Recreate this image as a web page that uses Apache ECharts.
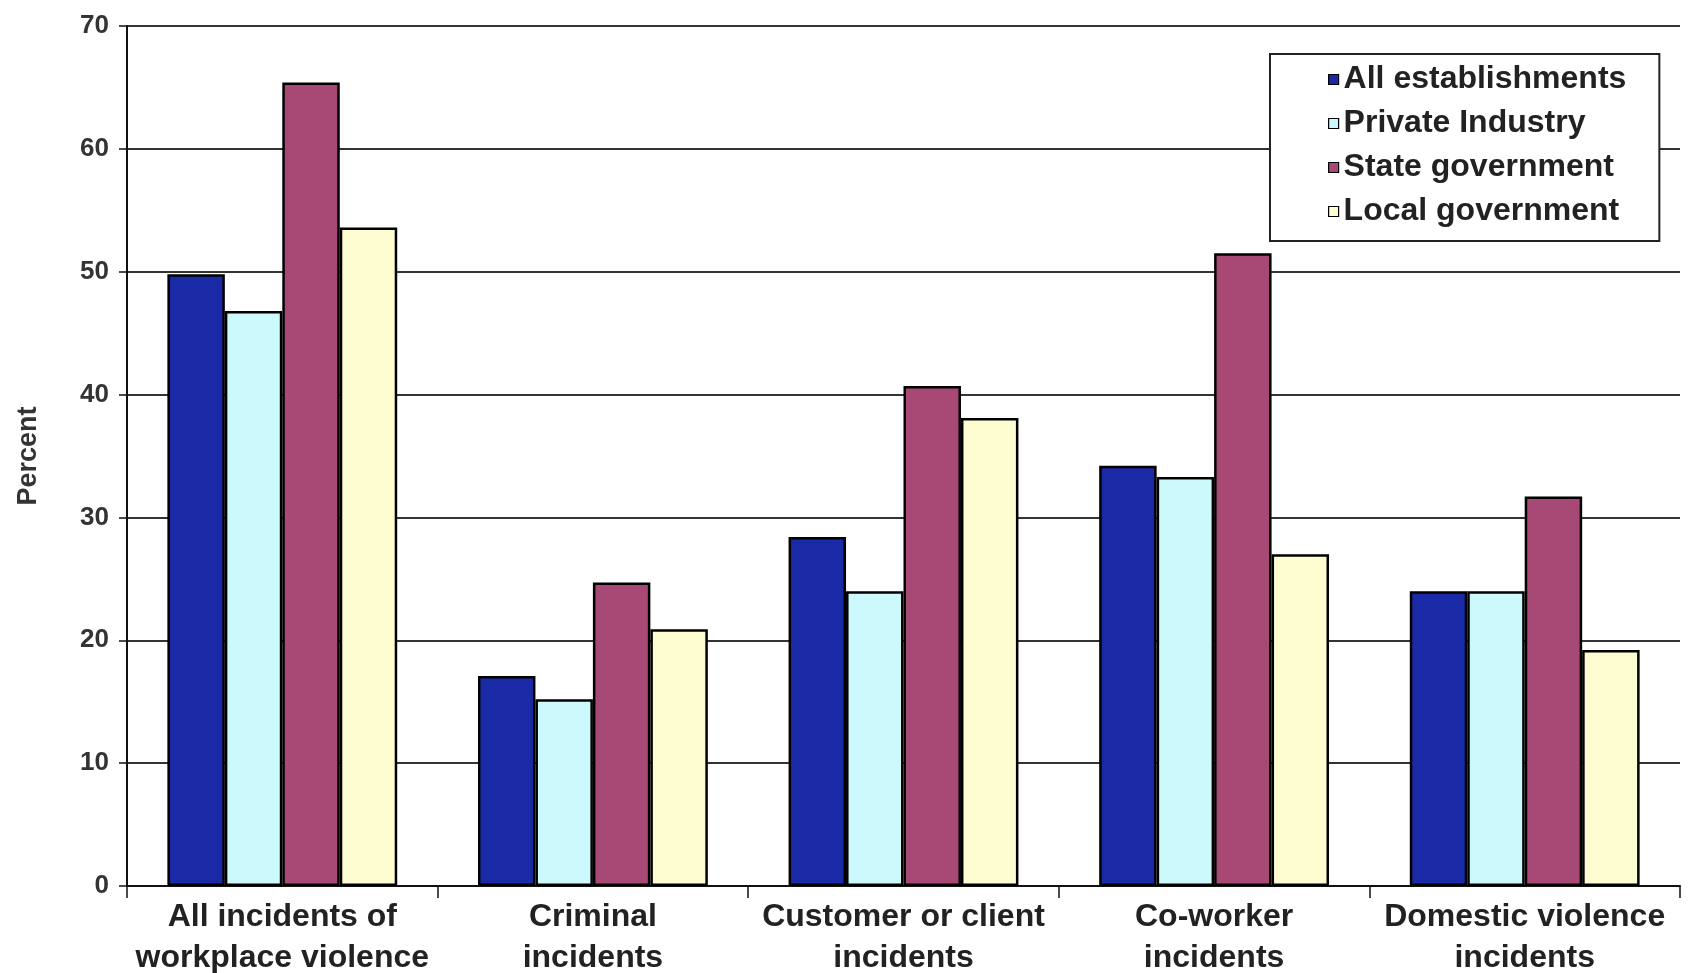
<!DOCTYPE html>
<html lang="en">
<head>
  <meta charset="UTF-8">
  <title>Workplace violence incidents</title>
  <style>
    html,body{margin:0;padding:0;background:#fff;}
    #main{width:1705px;height:973px;}
  </style>
</head>
<body>
  <div id="main"></div>
  <script src="https://cdn.jsdelivr.net/npm/echarts@6/dist/echarts.min.js"></script>
  <script>
    const categories=[
      'All incidents of\nworkplace violence',
      'Criminal\nincidents',
      'Customer or client\nincidents',
      'Co-worker\nincidents',
      'Domestic violence\nincidents'
    ];
    const allEstablishments=[49.8,17.1,28.4,34.2,24.0];
    const privateIndustry=[46.8,15.2,24.0,33.3,24.0];
    const stateGovernment=[65.4,24.7,40.7,51.5,31.7];
    const localGovernment=[53.6,20.9,38.1,27.0,19.2];
    const yTicks=[0,10,20,30,40,50,60,70];

    const font='"Liberation Sans", Arial, sans-serif';
    const chart=echarts.init(document.querySelector('#main'));

    function bar(name,data,color){
      return {
        name:name,
        type:'bar',
        data:data,
        barGap:'0%',
        barCategoryGap:'26%',
        itemStyle:{color:color,borderColor:'#000',borderWidth:2.5}
      };
    }

    const option={
      animation:false,
      backgroundColor:'#fff',
      textStyle:{fontFamily:font},
      grid:{left:127,right:25,top:26,bottom:87,containLabel:false,outerBoundsMode:'none'},
      legend:{
        orient:'vertical',
        left:1270,
        top:54,
        padding:[8,33,12,58],
        itemGap:9,
        itemWidth:10,
        itemHeight:10,
        icon:'rect',
        backgroundColor:'#fff',
        borderColor:'#222',
        borderWidth:2,
        itemStyle:{borderColor:'#000',borderWidth:1.2},
        textStyle:{fontFamily:font,fontWeight:'bold',fontSize:32,lineHeight:35,color:'#222'}
      },
      xAxis:{
        type:'category',
        data:categories,
        axisLine:{lineStyle:{color:'#111',width:2}},
        axisTick:{show:true,length:12,lineStyle:{color:'#111',width:1.5}},
        axisLabel:{
          interval:0,
          margin:11,
          fontFamily:font,
          fontWeight:'bold',
          fontSize:32,
          lineHeight:41,
          color:'#222'
        }
      },
      yAxis:{
        type:'value',
        min:0,
        max:70,
        interval:10,
        name:'Percent',
        nameLocation:'middle',
        nameRotate:90,
        nameGap:85,
        nameTextStyle:{fontFamily:font,fontWeight:'bold',fontSize:27,color:'#333'},
        axisLine:{show:true,lineStyle:{color:'#111',width:2}},
        axisTick:{show:true,length:8,lineStyle:{color:'#111',width:1.5}},
        axisLabel:{
          margin:18,
          fontFamily:font,
          fontWeight:'bold',
          fontSize:26,
          color:'#333',
          formatter:function(v){return yTicks.indexOf(v)>=0?String(v):'';}
        },
        splitLine:{show:true,lineStyle:{color:'#333',width:2}}
      },
      series:[
        bar('All establishments',allEstablishments,'#1a2aa6'),
        bar('Private Industry',privateIndustry,'#ccf9fb'),
        bar('State government',stateGovernment,'#a84874'),
        bar('Local government',localGovernment,'#fdfdd1')
      ]
    };
    chart.setOption(option);
  </script>
</body>
</html>
